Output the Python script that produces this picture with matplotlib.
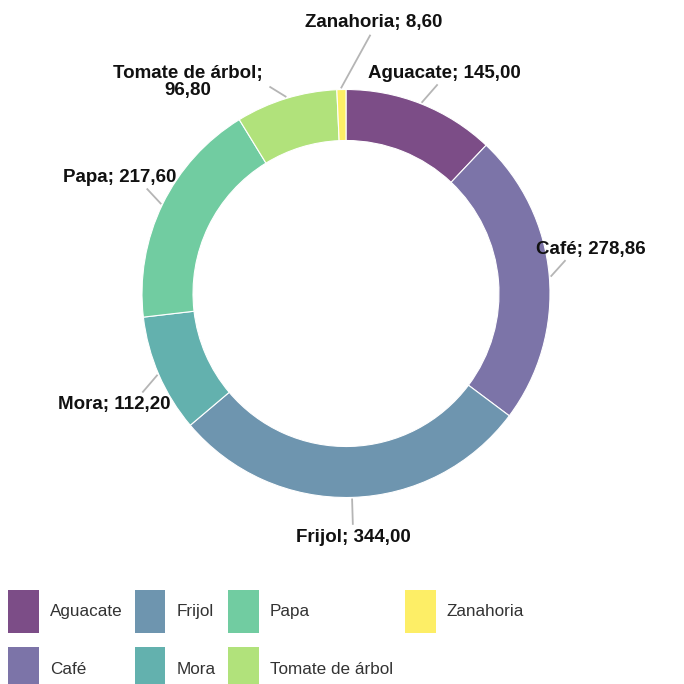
import numpy as np
import matplotlib
matplotlib.use("Agg")
import matplotlib.pyplot as plt
from matplotlib.patches import Patch

categories = ["Aguacate", "Café", "Frijol", "Mora", "Papa", "Tomate de árbol", "Zanahoria"]
values = [145.00, 278.86, 344.00, 112.20, 217.60, 96.80, 8.60]

# label layout: text angle offset (deg), text radius, line end radius, line end angle offset
text_shift = [-2.3, 5.3, 0.0, 2.2, -1.3, 19.7, -7.1]
text_radius = [1.18, 1.22, 1.197, 1.262, 1.245, 1.294, 1.335]
line_end_radius = [1.115, 1.085, 1.13, 1.106, 1.10, 1.078, 1.27]
line_end_shift = [-1.9, 3.6, 0.0, 2.4, -1.8, 3.1, -6.6]

plt.rcParams["font.family"] = ["Liberation Sans", "DejaVu Sans"]

base_colors = plt.get_cmap("viridis")(np.linspace(0, 1, len(categories)))
colors = [(r, g, b, 0.7) for r, g, b, _ in base_colors]

fig = plt.figure(figsize=(6.84, 6.84), dpi=100)
R_PX = 204
LIM = 1.45
size = 2 * LIM * R_PX
cx, cy = 346, 684 - 293.5
ax = fig.add_axes([(cx - size / 2) / 684, (cy - size / 2) / 684, size / 684, size / 684])

wedges, _ = ax.pie(
    values,
    radius=1,
    startangle=90,
    counterclock=False,
    colors=colors,
    wedgeprops=dict(width=0.25, edgecolor="white", linewidth=0.8),
)
ax.set_xlim(-LIM, LIM)
ax.set_ylim(-LIM, LIM)
ax.set_aspect("equal")
ax.axis("off")

for i, w in enumerate(wedges):
    mid = np.deg2rad((w.theta1 + w.theta2) / 2)
    a_line = mid + np.deg2rad(line_end_shift[i])
    x0, y0 = 1.01 * np.cos(mid), 1.01 * np.sin(mid)
    x1, y1 = line_end_radius[i] * np.cos(a_line), line_end_radius[i] * np.sin(a_line)
    ax.plot([x0, x1], [y0, y1], color="#b5b5b5", linewidth=1.3, clip_on=False)

    a_text = mid + np.deg2rad(text_shift[i])
    tx, ty = text_radius[i] * np.cos(a_text), text_radius[i] * np.sin(a_text)
    name = categories[i]
    val = f"{values[i]:.2f}".replace(".", ",")
    label = f"{name};\n{val}" if " " in name else f"{name}; {val}"
    ax.text(tx, ty, label, ha="center", va="center", fontsize=13.5,
            fontweight="bold", color="#111111", linespacing=1.05, clip_on=False)

handles = [Patch(facecolor=c, edgecolor="none") for c in colors]
fig.legend(
    handles, categories,
    loc="upper left",
    bbox_to_anchor=(8 / 684, 1 - 590 / 684),
    ncol=4,
    frameon=False,
    fontsize=12.3,
    handlelength=1.8,
    handleheight=3.5,
    handletextpad=0.66,
    columnspacing=0.7,
    labelspacing=0.83,
    borderpad=0,
    borderaxespad=0,
    labelcolor="#333333",
)

fig.savefig("out.png", dpi=100)
